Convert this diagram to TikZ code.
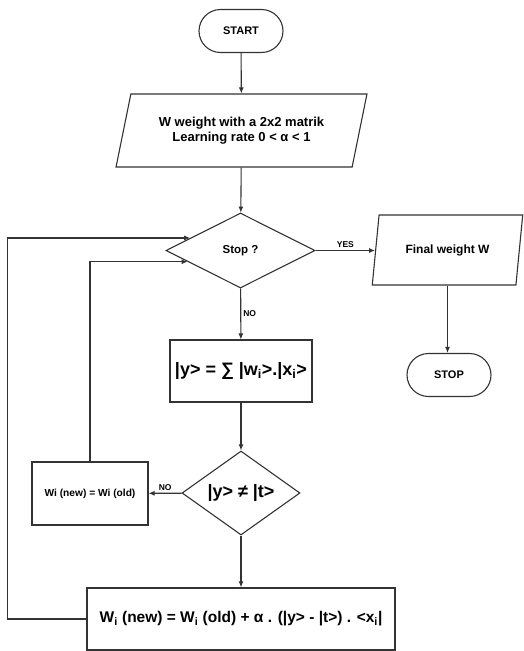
\documentclass[tikz,border=0pt]{standalone}
\usepackage{fontspec}
\setmainfont{Liberation Sans}
\usetikzlibrary{shapes.geometric,shapes.misc,arrows.meta}

\tikzset{
  box/.style={draw=black!80,fill=white,line width=1.1pt,inner sep=2pt,font=\bfseries},
  term/.style={box,rounded rectangle,minimum width=88pt,minimum height=43pt},
  io/.style={box,trapezium,trapezium stretches=true},
  test/.style={box,diamond,inner sep=0pt},
  arr/.style={draw=black!80,line width=1.1pt,-{Latex[length=6pt,width=5pt]}},
  lbl/.style={font=\bfseries\fontsize{8.5}{9}\selectfont,inner sep=2pt}
}

\begin{document}
\begin{tikzpicture}[x=1pt,y=-1pt]
  \useasboundingbox (0,0) rectangle (524,651);
  \node[term,font=\bfseries\fontsize{11}{12}\selectfont] (start) at (241,31) {START};
  \node[io,trapezium left angle=70,trapezium right angle=110,minimum width=251pt,minimum height=73pt,
        align=center,font=\bfseries\fontsize{13}{15}\selectfont] (inp) at (241.5,130.5)
        {W weight with a 2x2 matrik\\Learning rate 0 < α < 1};
  \node[test,minimum width=149pt,minimum height=75pt,font=\bfseries\fontsize{11.5}{12}\selectfont] (stop) at (240.5,250.5) {Stop ?};
  \node[io,trapezium left angle=74,trapezium right angle=106,minimum width=151pt,minimum height=70pt,
        font=\bfseries\fontsize{12}{13}\selectfont] (fin) at (447.5,250) {Final weight W};
  \node[term,font=\bfseries\fontsize{11}{12}\selectfont] (halt) at (449,375) {STOP};
  \node[box,rectangle,minimum width=142pt,minimum height=62pt,font=\bfseries\fontsize{18}{20}\selectfont] (sum) at (241,371)
        {|y> = ∑ |w\textsubscript{i}>.|x\textsubscript{i}>};
  \node[test,minimum width=118pt,minimum height=78pt,font=\bfseries\fontsize{18}{20}\selectfont] (cmp) at (241,493) {|y> ≠ |t>};
  \node[box,rectangle,minimum width=116pt,minimum height=63pt,font=\bfseries\fontsize{10.2}{11}\selectfont] (keep) at (90,493.5)
        {Wi (new) = Wi (old)};
  \node[box,rectangle,minimum width=308pt,minimum height=62pt,font=\bfseries\fontsize{15.5}{17}\selectfont] (upd) at (241,619)
        {W\textsubscript{i} (new) = W\textsubscript{i} (old) + α . (|y> - |t>) . <x\textsubscript{i}|};

  \draw[arr] (start) -- (inp);
  \draw[arr] (inp) -- (stop);
  \draw[arr] (stop.east) -- node[lbl,above] {YES} (stop.east -| fin.west);
  \draw[arr] (stop) -- node[lbl,right] {NO} (sum);
  \draw[arr] (fin.south) -- (fin.south |- halt.north);
  \draw[arr] (sum) -- (cmp);
  \draw[arr] (cmp) -- node[lbl,above] {NO} (keep);
  \draw[arr] (cmp) -- (upd);
  \draw[arr] (keep.north) |- (stop.192);
  \draw[arr] (upd.west) -- ++(-79,0) |- (stop.166);
\end{tikzpicture}
\end{document}
